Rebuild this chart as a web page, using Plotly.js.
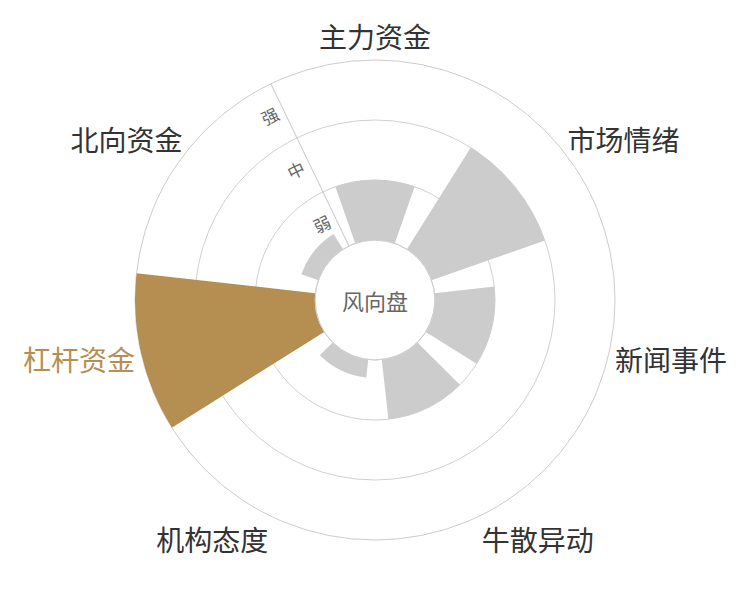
<!DOCTYPE html>
<html>
<head>
<meta charset="utf-8">
<script src="https://cdn.plot.ly/plotly-3.0.1.min.js"></script>
<style>
  body { margin: 0; background: #fff; }
  #chart { width: 750px; height: 600px; }
</style>
</head>
<body>
<div id="chart"></div>
<script>
  // dimensions of the wind gauge, clockwise from the top
  let categories = ["主力资金", "市场情绪", "新闻事件", "牛散异动", "机构态度", "杠杆资金", "北向资金"];
  let strength = [1, 2, 1, 1, 0.3, 3, 0.3];
  let highlight = "杠杆资金";

  // radial scale: grid rings and the labels between them
  let gridVals = [0, 1, 2, 3];
  let levelVals = [0.5, 1.5, 2.5];
  let levelText = ["弱", "中", "强"];

  let gold = "#b58f52";
  let gray = "#cccccc";
  let font = "'Noto Sans CJK SC', 'Noto Sans', sans-serif";
  let hole = 0.25;

  let colors = categories.map(c => (c === highlight ? gold : gray));
  let tickText = categories.map(c =>
    c === highlight ? '<span style="color:' + gold + '">' + c + "</span>" : c
  );

  let axisAngle = 90 + 360 / categories.length / 2;

  let traces = [
    {
      type: "barpolar",
      r: strength,
      theta: categories,
      marker: { color: colors, line: { width: 0 } },
      hoverinfo: "theta+r",
      subplot: "polar",
    },
    {
      type: "scatterpolar",
      r: [],
      theta: [],
      mode: "markers",
      subplot: "polar2",
      hoverinfo: "skip",
    },
  ];

  let angular = {
    type: "category",
    categoryarray: categories,
    rotation: 90,
    direction: "clockwise",
    showgrid: false,
    ticks: "",
  };

  let layout = {
    width: 750,
    height: 600,
    margin: { l: 135, r: 135, t: 60, b: 60 },
    paper_bgcolor: "#fff",
    showlegend: false,
    font: { family: font },
    polar: {
      domain: { x: [0, 1], y: [0, 1] },
      hole: hole,
      bargap: 0.25,
      bgcolor: "#fff",
      radialaxis: {
        range: [0, 3],
        tickvals: gridVals,
        showticklabels: false,
        ticks: "",
        showline: false,
        gridcolor: "#d0d0d0",
        gridwidth: 1,
        layer: "below traces",
      },
      angularaxis: Object.assign({}, angular, {
        tickvals: categories,
        ticktext: tickText,
        tickfont: { size: 28, color: "#333", family: font },
        showline: true,
        linecolor: "#cccccc",
        linewidth: 1,
        layer: "below traces",
      }),
    },
    polar2: {
      domain: { x: [0, 1], y: [0, 1] },
      hole: hole,
      bgcolor: "rgba(0,0,0,0)",
      radialaxis: {
        range: [0, 3],
        angle: axisAngle,
        side: "counterclockwise",
        tickvals: levelVals,
        ticktext: levelText,
        tickangle: 90,
        tickfont: { size: 17, color: "#666", family: font },
        ticks: "",
        showgrid: false,
        showline: true,
        linecolor: "#cccccc",
        linewidth: 1,
      },
      angularaxis: Object.assign({}, angular, {
        showticklabels: false,
        showline: false,
      }),
    },
    // thin ring round the hole
    shapes: [
      {
        type: "circle",
        xref: "paper",
        yref: "paper",
        x0: 0.5 - hole / 2,
        x1: 0.5 + hole / 2,
        y0: 0.5 - hole / 2,
        y1: 0.5 + hole / 2,
        line: { color: "#d0d0d0", width: 1 },
        layer: "above",
      },
    ],
    annotations: [
      {
        text: "风向盘",
        xref: "paper",
        yref: "paper",
        x: 0.5,
        y: 0.5,
        showarrow: false,
        font: { size: 22, color: "#666", family: font },
      },
    ],
  };

  Plotly.newPlot("chart", traces, layout, { displayModeBar: false, staticPlot: true });
</script>
</body>
</html>
